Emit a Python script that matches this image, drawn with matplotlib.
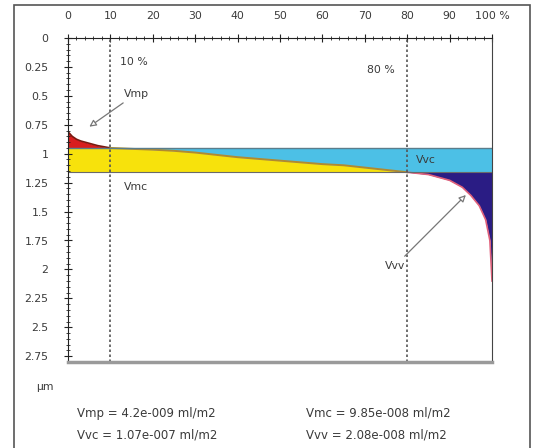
import numpy as np
import matplotlib

matplotlib.use("Agg")
import matplotlib.pyplot as plt
from matplotlib.patches import Rectangle

# Abbott-Firestone (bearing ratio) curve
ratio = np.array([0, 1, 2, 3, 5, 7, 10, 15, 20, 25, 30, 35, 40, 45, 50, 55, 60,
                  65, 70, 75, 80, 85, 90, 93, 95, 97, 98.5, 99.5, 100])
height = np.array([0.81, 0.85, 0.875, 0.89, 0.91, 0.93, 0.95, 0.958, 0.965, 0.975,
                   0.99, 1.01, 1.03, 1.045, 1.06, 1.075, 1.09, 1.10, 1.12, 1.14,
                   1.16, 1.18, 1.23, 1.29, 1.36, 1.45, 1.57, 1.75, 2.1])
mr1, mr2 = 10, 80
c1, c2 = 0.95, 1.16

x_ticks = [0, 10, 20, 30, 40, 50, 60, 70, 80, 90, 100]
x_labels = ["0", "10", "20", "30", "40", "50", "60", "70", "80", "90", "100 %"]
y_ticks = [0, 0.25, 0.5, 0.75, 1, 1.25, 1.5, 1.75, 2, 2.25, 2.5, 2.75]
y_labels = ["0", "0.25", "0.5", "0.75", "1", "1.25", "1.5", "1.75", "2", "2.25", "2.5", "2.75"]

results = [("Vmp = 4.2e-009 ml/m2", "Vmc = 9.85e-008 ml/m2"),
           ("Vvc = 1.07e-007 ml/m2", "Vvv = 2.08e-008 ml/m2")]

RED, YELLOW, BLUE, NAVY = "#d81e1e", "#f7e20c", "#4cc0e6", "#2a1c84"
TXT = "#3a3a3a"
FS = 7.8
plt.rcParams["font.family"] = ["DejaVu Sans"]

fig = plt.figure(figsize=(5.37, 4.48), dpi=100)
ax = fig.add_axes([68 / 537, 1 - 362 / 448, (492 - 68) / 537, (362 - 38) / 448])

# volume regions
ax.fill_between(ratio, height, c1, where=ratio <= mr1, color=RED, lw=0)
ax.fill_between(ratio, np.maximum(height, c1), c2, where=ratio <= mr2, color=YELLOW, lw=0)
ax.fill_between(ratio, c1, np.minimum(height, c2), where=ratio >= mr1, color=BLUE, lw=0)
ax.fill_between(ratio, c2, height, where=ratio >= mr2, color=NAVY, lw=0)

# curve outline, segment by segment
seg1 = ratio <= mr1
seg2 = (ratio >= mr1) & (ratio <= mr2)
seg3 = ratio >= mr2
ax.plot(ratio[seg1], height[seg1], color="#7a1a10", lw=1.2)
ax.plot(ratio[seg2], height[seg2], color="#b08a30", lw=1.4)
ax.plot(ratio[seg3], height[seg3], color="#e0607a", lw=1.2)
ax.hlines(c1, 0, 100, color="#5a7d8c", lw=1.0)
ax.hlines(c2, 0, 100, color="#6a6a6a", lw=0.8)

# Smr1 / Smr2 markers
for m in (mr1, mr2):
    ax.axvline(m, color="#555555", lw=1.2, ls=(0, (1.5, 1.5)))
ax.text(12.3, 0.21, "10 %", fontsize=FS, color=TXT, va="center")
ax.text(77, 0.28, "80 %", fontsize=FS, color=TXT, va="center", ha="right")

# labels with arrows
arrow = dict(arrowstyle="-|>", color="#777777", lw=0.9, fc="white", mutation_scale=10)
ax.annotate("Vmp", xy=(4.5, 0.78), xytext=(13.2, 0.48), fontsize=FS, color=TXT,
            va="center", arrowprops=arrow)
ax.text(13.2, 1.29, "Vmc", fontsize=FS, color=TXT, va="center")
ax.text(82, 1.05, "Vvc", fontsize=FS, color=TXT, va="center")
ax.annotate("Vvv", xy=(94.3, 1.34), xytext=(79.5, 1.97), fontsize=FS, color=TXT,
            va="center", ha="right", arrowprops=arrow)

ax.set_xlim(0, 100)
ax.set_ylim(2.8, 0)
ax.xaxis.tick_top()
ax.set_xticks(x_ticks)
ax.set_xticklabels(x_labels)
ax.set_xticks(np.arange(0, 101, 2), minor=True)
ax.set_yticks(y_ticks)
ax.set_yticklabels(y_labels)
ax.set_yticks(np.arange(0, 2.8, 0.05), minor=True)
ax.tick_params(which="major", direction="inout", length=6, width=0.8, labelsize=FS,
               colors="#222222", labelcolor=TXT)
ax.tick_params(which="minor", direction="inout", length=3, width=0.6, colors="#222222")
ax.tick_params(axis="x", pad=9)
ax.tick_params(axis="y", pad=11)

ax.spines["top"].set_color("#222222")
ax.spines["left"].set_color("#222222")
ax.spines["right"].set_color("#444444")
ax.spines["right"].set_linewidth(0.8)
ax.spines["bottom"].set_color("#9a9a9a")
ax.spines["bottom"].set_linewidth(2.5)

fig.text(36 / 537, 1 - 387 / 448, "µm", fontsize=FS, color=TXT, va="center")
for row, (left, right) in enumerate(results):
    yy = 1 - (413 + row * 22) / 448
    fig.text(77 / 537, yy, left, fontsize=8.5, color=TXT, va="center")
    fig.text(306 / 537, yy, right, fontsize=8.5, color=TXT, va="center")

# outer frame
fig.patches.append(Rectangle((14 / 537, -0.01), (530 - 14) / 537, 1 - 5 / 448 + 0.01,
                             transform=fig.transFigure, fill=False,
                             ec="#555555", lw=1.2))

fig.savefig("out.png", dpi=100)
